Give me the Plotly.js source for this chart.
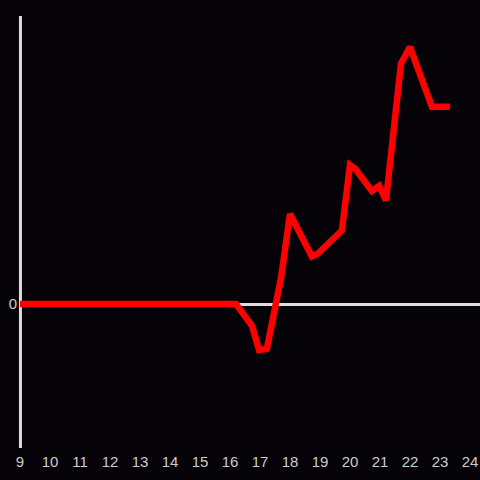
<!DOCTYPE html>
<html><head><meta charset="utf-8">
<script src="https://cdn.plot.ly/plotly-3.0.1.min.js"></script>
<style>html,body{margin:0;padding:0;background:#050307;}#chart{width:480px;height:480px;}</style>
</head><body><div id="chart"></div>
<script>
const hours = [9, 16.2, 16.73, 16.97, 17.23, 17.7, 18.0, 18.73, 18.93, 19.73, 20.0, 20.17, 20.73, 20.97, 21.2, 21.7, 22.0, 22.27, 22.73, 23.33];
const values = [0, 0, -0.15, -0.32, -0.31, 0.18, 0.625, 0.33, 0.35, 0.51, 0.965, 0.94, 0.785, 0.82, 0.72, 1.67, 1.785, 1.625, 1.37, 1.37];
const xTicks = [9,10,11,12,13,14,15,16,17,18,19,20,21,22,23,24];
const yTicks = [0];

Plotly.newPlot('chart', [{
  x: hours, y: values, type: 'scatter', mode: 'lines',
  line: {color: '#ff0000', width: 6.5}, hoverinfo: 'none'
}], {
  width: 480, height: 480,
  paper_bgcolor: '#050307', plot_bgcolor: '#050307',
  margin: {l: 20, r: 0, t: 16, b: 32},
  showlegend: false,
  font: {family: 'Liberation Sans, Arial, sans-serif', size: 15, color: '#cccccc'},
  xaxis: {range: [9, 24 + 1/3], tickvals: xTicks, ticktext: xTicks.map(String), showgrid: false,
          zeroline: false, showline: false, ticks: '', ticklabelstandoff: 3,
          tickfont: {size: 15, color: '#cccccc'}},
  yaxis: {range: [-1, 2], tickvals: yTicks, ticktext: ['0'], showgrid: false,
          zeroline: true, zerolinecolor: '#dddddd', zerolinewidth: 3,
          showline: false, ticks: '', ticklabelstandoff: 2,
          tickfont: {size: 15, color: '#cccccc'}},
  shapes: [{type: 'line', xref: 'paper', yref: 'paper', x0: 0.001, x1: 0.001, y0: 0, y1: 1,
            line: {color: '#dddddd', width: 3}, layer: 'below'}]
}, {staticPlot: true});
</script></body></html>
